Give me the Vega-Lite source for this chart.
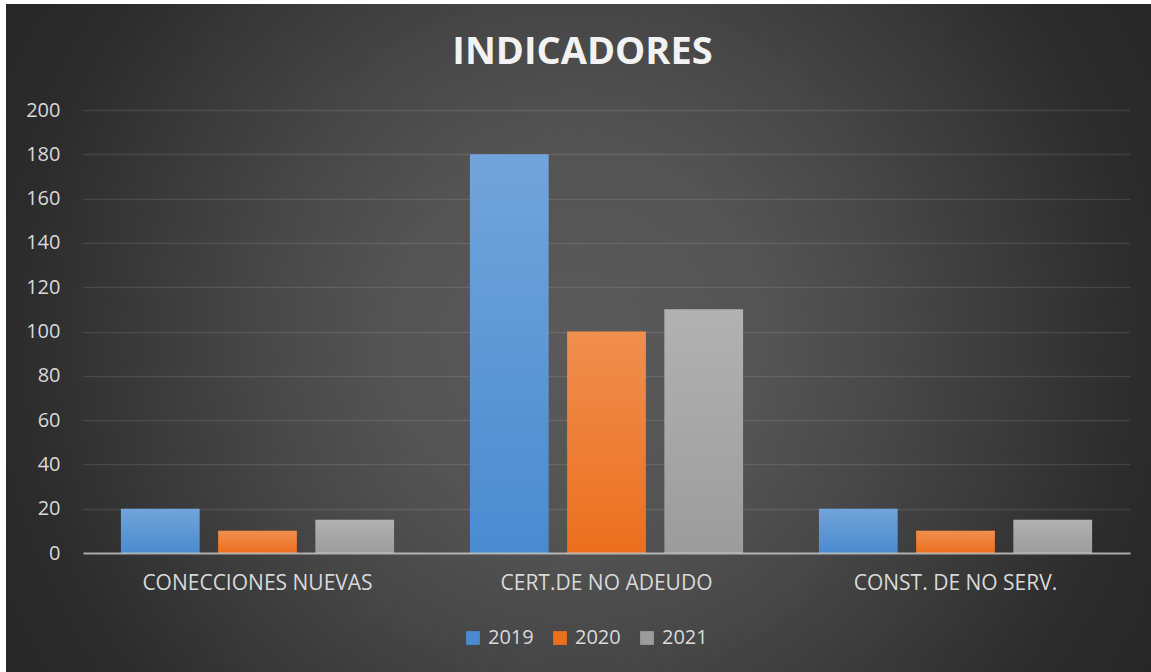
{
  "$schema": "https://vega.github.io/schema/vega-lite/v6.json",
  "width": 1145,
  "height": 668,
  "autosize": "none",
  "padding": {"left": 6, "top": 4, "right": 0, "bottom": 0},
  "background": "#ffffff",
  "title": {
    "text": "INDICADORES",
    "anchor": "middle",
    "frame": "group",
    "font": "Open Sans",
    "fontSize": 38,
    "fontWeight": "bold",
    "color": "#f2f2f2",
    "baseline": "alphabetic",
    "offset": 0,
    "dx": 4,
    "dy": 98
  },
  "data": {
    "values": [
      {"category": "CONECCIONES NUEVAS", "year": "2019", "value": 20},
      {"category": "CONECCIONES NUEVAS", "year": "2020", "value": 10},
      {"category": "CONECCIONES NUEVAS", "year": "2021", "value": 15},
      {"category": "CERT.DE NO ADEUDO", "year": "2019", "value": 180},
      {"category": "CERT.DE NO ADEUDO", "year": "2020", "value": 100},
      {"category": "CERT.DE NO ADEUDO", "year": "2021", "value": 110},
      {"category": "CONST. DE NO SERV.", "year": "2019", "value": 20},
      {"category": "CONST. DE NO SERV.", "year": "2020", "value": 10},
      {"category": "CONST. DE NO SERV.", "year": "2021", "value": 15}
    ]
  },
  "encoding": {
    "x": {
      "field": "category",
      "type": "nominal",
      "sort": null,
      "title": null,
      "scale": {"range": [77, 1124], "paddingInner": 0, "paddingOuter": 0},
      "axis": {
        "orient": "bottom",
        "offset": -119,
        "labelAngle": 0,
        "labelFont": "Open Sans",
        "labelFontSize": 21,
        "labelColor": "#d9d9d9",
        "labelPadding": 19,
        "labelLimit": 0,
        "ticks": false,
        "domainColor": "#d9d9d9",
        "domainOpacity": 0.7,
        "domainWidth": 2,
        "grid": false,
        "zindex": 1
      }
    },
    "xOffset": {
      "field": "year",
      "type": "nominal",
      "scale": {"paddingInner": 0.19, "paddingOuter": 0.39}
    },
    "y": {
      "field": "value",
      "type": "quantitative",
      "title": null,
      "scale": {"domain": [0, 200], "range": [549, 106], "nice": false},
      "axis": {
        "orient": "left",
        "offset": -77,
        "values": [0, 20, 40, 60, 80, 100, 120, 140, 160, 180, 200],
        "labelFont": "Open Sans",
        "labelFontSize": 20,
        "labelColor": "#d9d9d9",
        "labelPadding": 23,
        "ticks": false,
        "domain": false,
        "grid": true,
        "gridColor": "#ffffff",
        "gridOpacity": 0.1,
        "gridWidth": 1.5
      }
    }
  },
  "layer": [
    {
      "mark": {"type": "bar"},
      "encoding": {
        "color": {
          "field": "year",
          "type": "nominal",
          "title": null,
          "scale": {"domain": ["2019", "2020", "2021"], "range": ["#4a8bd0", "#ec6f1e", "#9c9c9c"]},
          "legend": {
            "orient": "none",
            "legendX": 457,
            "legendY": 624,
            "direction": "horizontal",
            "symbolType": "square",
            "symbolSize": 190,
            "symbolStrokeWidth": 0,
            "labelFont": "Open Sans",
            "labelFontSize": 20,
            "labelColor": "#d9d9d9",
            "labelOffset": 5,
            "columnPadding": 16,
            "padding": 0
          }
        }
      }
    },
    {
      "mark": {
        "type": "bar",
        "fill": {
          "gradient": "linear",
          "x1": 0, "y1": 0, "x2": 0, "y2": 1,
          "stops": [
            {"offset": 0, "color": "rgba(255,255,255,0.22)"},
            {"offset": 1, "color": "rgba(255,255,255,0)"}
          ]
        }
      }
    }
  ],
  "config": {
    "view": {
      "stroke": null,
      "fill": {
        "gradient": "radial",
        "x1": 0.5, "y1": 0.5, "r1": 0,
        "x2": 0.5, "y2": 0.5, "r2": 0.6,
        "stops": [
          {"offset": 0, "color": "#5a5a5a"},
          {"offset": 0.29, "color": "#535353"},
          {"offset": 0.466, "color": "#474747"},
          {"offset": 0.815, "color": "#2c2c2c"},
          {"offset": 0.964, "color": "#262626"},
          {"offset": 1, "color": "#252525"}
        ]
      }
    }
  }
}
